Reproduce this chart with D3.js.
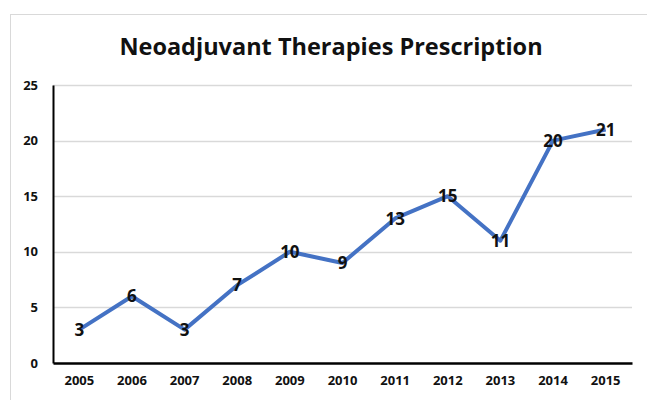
<!DOCTYPE html>
<html>
<head>
<meta charset="utf-8">
<script src="https://cdn.jsdelivr.net/npm/d3@7"></script>
<style>
	body { margin: 0; background: #fff; }
	text { font-family: "Open Sans", "Liberation Sans", sans-serif; }
</style>
</head>
<body>
<div id="chart"></div>
<script>
// chart data
var years = ['2005','2006','2007','2008','2009','2010','2011','2012','2013','2014','2015'];
var prescriptions = [3, 6, 3, 7, 10, 9, 13, 15, 11, 20, 21];
var yTicks = [0, 5, 10, 15, 20, 25];

var width = 647, height = 400;
var plot = { left: 53, right: 632, top: 85, bottom: 363 };

var svg = d3.select('#chart').append('svg')
	.attr('width', width)
	.attr('height', height);

// outer chart frame (right and bottom run off the picture)
svg.append('rect')
	.attr('x', 10.5).attr('y', 14.5)
	.attr('width', 700).attr('height', 500)
	.attr('fill', 'none')
	.attr('stroke', '#d9d9d9')
	.attr('stroke-width', 1);

svg.append('text')
	.attr('x', 331).attr('y', 55)
	.attr('text-anchor', 'middle')
	.style('font-size', '23.5px')
	.style('font-weight', 'bold')
	.attr('fill', '#111')
	.text('Neoadjuvant Therapies Prescription');

var x = d3.scaleBand()
	.domain(years)
	.range([plot.left, plot.right]);

var y = d3.scaleLinear()
	.domain([0, 25])
	.range([plot.bottom, plot.top]);

// gridlines
svg.append('g')
	.selectAll('line')
	.data(yTicks.filter(function(d){ return d > 0; }))
	.enter()
	.append('line')
		.attr('x1', plot.left).attr('x2', plot.right)
		.attr('y1', function(d){ return Math.round(y(d)) + 0.5; })
		.attr('y2', function(d){ return Math.round(y(d)) + 0.5; })
		.attr('stroke', '#d9d9d9')
		.attr('stroke-width', 1.5);

// y axis
var yAxis = svg.append('g')
	.attr('transform', 'translate(' + plot.left + ',0)')
	.call(d3.axisLeft(y).tickValues(yTicks).tickSize(0).tickPadding(15));
yAxis.select('.domain').attr('stroke', '#000').attr('stroke-width', 2);
yAxis.selectAll('text')
	.style('font-size', '13px')
	.style('font-weight', 'bold')
	.attr('fill', '#111');

// x axis
var xAxis = svg.append('g')
	.attr('transform', 'translate(0,' + plot.bottom + ')')
	.call(d3.axisBottom(x).tickSize(0).tickPadding(13));
xAxis.select('.domain').attr('stroke', '#000').attr('stroke-width', 2.5);
xAxis.selectAll('text')
	.style('font-size', '13px')
	.style('font-weight', 'bold')
	.attr('fill', '#111');

var line = d3.line()
	.x(function(d, i){ return x(years[i]) + x.bandwidth() / 2; })
	.y(function(d){ return y(d); });

svg.append('path')
	.datum(prescriptions)
	.attr('d', line)
	.attr('fill', 'none')
	.attr('stroke', '#4472c4')
	.attr('stroke-width', 4)
	.attr('stroke-linejoin', 'round');

// value labels sitting on the points
svg.append('g')
	.selectAll('text')
	.data(prescriptions)
	.enter()
	.append('text')
		.attr('x', function(d, i){ return x(years[i]) + x.bandwidth() / 2; })
		.attr('y', function(d){ return y(d); })
		.attr('dy', '0.36em')
		.attr('text-anchor', 'middle')
		.style('font-size', '17px')
		.style('font-weight', 'bold')
		.attr('fill', '#111')
		.text(function(d){ return d; });
</script>
</body>
</html>
